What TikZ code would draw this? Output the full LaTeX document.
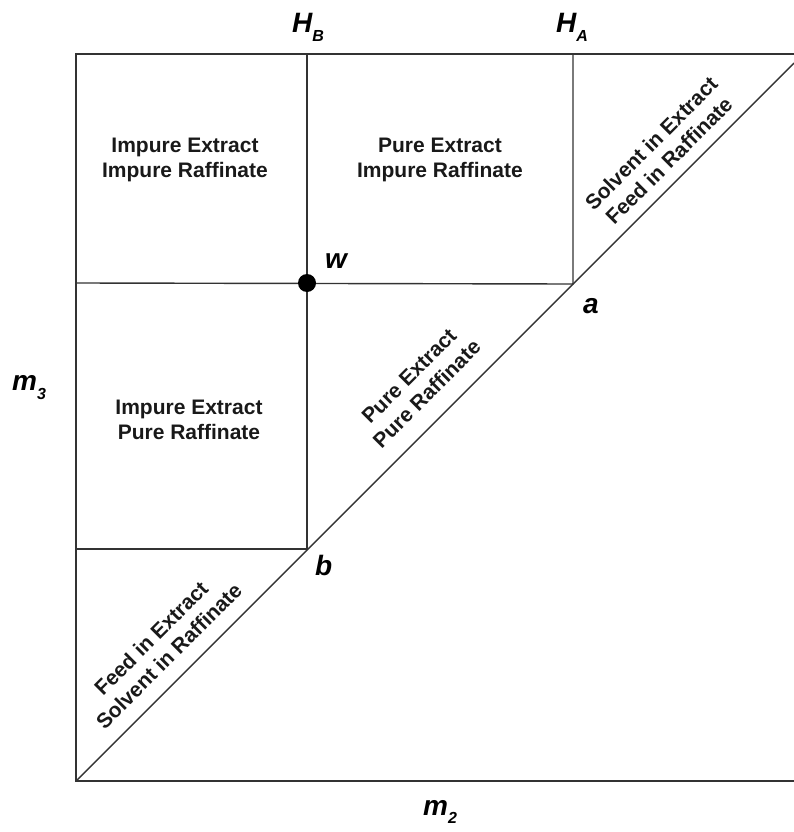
\documentclass[tikz,border=0pt]{standalone}
\usepackage{fontspec}
\setmainfont{Liberation Sans}
\begin{document}
\begin{tikzpicture}[x=1pt,y=-1pt,
  frame/.style={line width=1.4pt, draw=black!80},
  region/.style={font=\fontsize{21}{25}\selectfont\bfseries, align=center, inner sep=0pt, text=black!90},
  biglabel/.style={font=\fontsize{28}{30}\selectfont\bfseries\itshape, inner sep=0pt, anchor=base west}]
\useasboundingbox (0,0) rectangle (794,832);
% corners of the operating plane and the diagonal m2 = m3
\coordinate (O)  at (76,781);
\coordinate (TL) at (76,54);
\coordinate (TR) at (794,54);
\coordinate (BR) at (794,781);
\coordinate (DE) at (794,63);
% Henry constants and vertices of the complete separation region
\coordinate (HBtop) at (307,54);
\coordinate (HAtop) at (573,54);
\coordinate (w) at (307,283);
\coordinate (a) at (573,284);
\coordinate (b) at (307,549);
\coordinate (L1) at (76,283);
\coordinate (L2) at (76,549);

\draw[frame] (TR) -- (TL) -- (O) -- (BR);
\draw[frame] (O) -- (DE);
\draw[frame] (HBtop) -- (b) -- (L2);
\draw[frame] (HAtop) -- (a) -- (L1);
\fill[black] (w) circle[radius=9pt];

% axis and point labels
\node[biglabel] (HB) at (292,33) {H\raisebox{-9pt}{\fontsize{16}{16}\selectfont B}};
\node[biglabel] (HA) at (556,33) {H\raisebox{-9pt}{\fontsize{16}{16}\selectfont A}};
\node[biglabel] (m3) at (12,390) {m\raisebox{-9pt}{\fontsize{16}{16}\selectfont 3}};
\node[biglabel] (m2) at (423,815) {m\raisebox{-8pt}{\fontsize{16}{16}\selectfont 2}};
\node[biglabel] (wl) at (325,268) {w};
\node[biglabel] (al) at (583,313) {a};
\node[biglabel] (bl) at (315,575) {b};

% region labels
\node[region] (r1) at (185,160) {Impure Extract\\Impure Raffinate};
\node[region] (r2) at (440,160) {Pure Extract\\Impure Raffinate};
\node[region] (r3) at (189,420) {Impure Extract\\Pure Raffinate};
\node[region, rotate=45] (r4) at (418,385) {Pure Extract\\Pure Raffinate};
\node[region, rotate=45] (r5) at (660,152) {Solvent in Extract\\Feed in Raffinate};
\node[region, rotate=45] (r6) at (160,647) {Feed in Extract\\Solvent in Raffinate};
\end{tikzpicture}
\end{document}
